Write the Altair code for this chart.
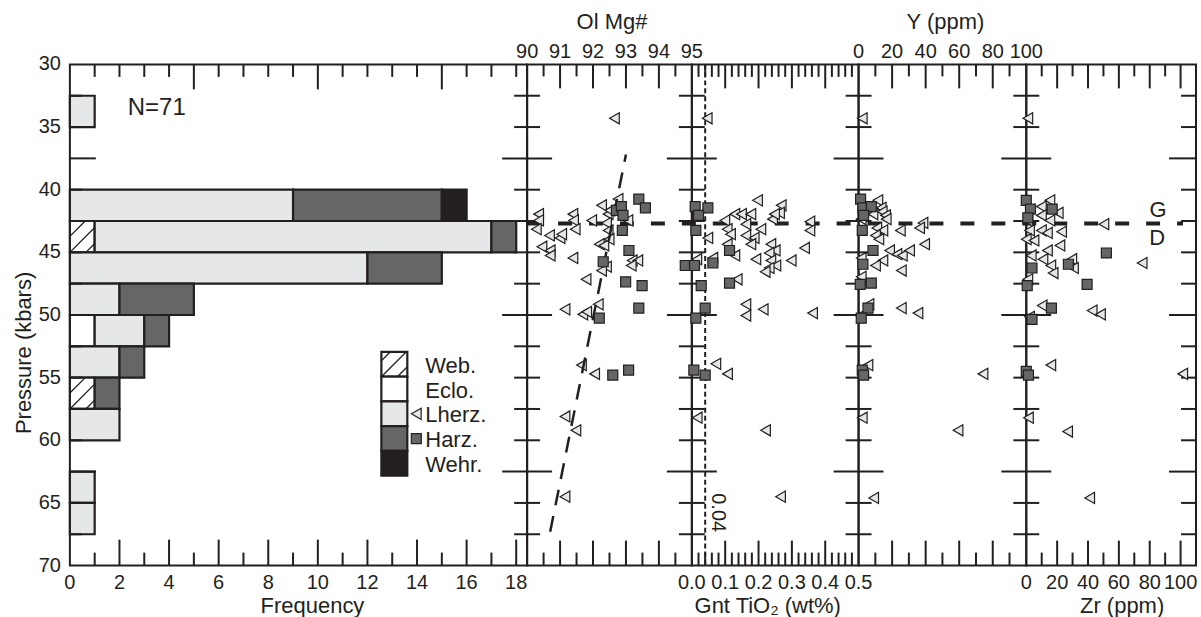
import altair as alt
import pandas as pd

INK = "#231f20"
LIGHT = "#e6e7e8"
DARK = "#666666"
NARROW = "Liberation Sans Narrow, Liberation Sans, Arial, sans-serif"
REG = "Liberation Sans, Arial, sans-serif"

# ---------------- histogram data (2.5 kbar bins, top edge) ----------------
BIN = 2.5
bin_top = [32.5, 40.0, 42.5, 45.0, 47.5, 50.0, 52.5, 55.0, 57.5, 62.5, 65.0]
n_web   = [0, 0, 1, 0, 0, 0, 0, 1, 0, 0, 0]
n_eclo  = [0, 0, 0, 0, 0, 1, 0, 0, 0, 0, 0]
n_lherz = [1, 9, 16, 12, 2, 2, 2, 0, 2, 1, 1]
n_harz  = [0, 6, 1, 3, 3, 1, 1, 1, 0, 0, 0]
n_wehr  = [0, 1, 0, 0, 0, 0, 0, 0, 0, 0, 0]
rock_types = ["Web.", "Eclo.", "Lherz.", "Harz.", "Wehr."]
rock_fills = ["#ffffff", "#ffffff", LIGHT, DARK, INK]

# ---------------- Ol Mg# ----------------
mg_lherz_x = [90.35, 90.35, 90.28, 90.68, 91.0, 91.05, 91.39, 91.41, 91.46, 90.45, 90.70, 90.70, 91.39, 91.79,
              91.96, 92.26, 92.46, 92.41, 92.46, 92.19, 92.33, 92.49, 92.41, 92.26, 92.76, 92.51, 93.06, 93.19,
              93.36, 93.16, 91.15, 91.69, 92.16, 91.81, 92.65, 91.65, 92.05, 91.15, 91.48, 91.15]
mg_lherz_p = [41.95, 42.45, 43.15, 43.65, 43.85, 43.55, 41.95, 42.45, 43.15, 44.55, 44.85, 45.25, 45.45, 47.15,
              42.45, 41.25, 41.95, 42.65, 43.25, 44.35, 44.45, 43.95, 46.15, 46.45, 40.75, 41.65, 42.45, 45.65,
              45.65, 46.05, 49.55, 49.95, 49.15, 49.75, 34.3, 54.0, 54.7, 58.1, 59.2, 64.5]
mg_harz_x = [93.39, 93.59, 92.71, 92.86, 92.91, 92.89, 93.09, 92.31, 92.99, 93.49, 93.39, 92.19, 92.6, 93.08, 94.8]
mg_harz_p = [40.75, 41.45, 41.65, 41.35, 42.05, 43.25, 44.85, 45.75, 47.35, 47.65, 49.45, 50.25, 54.8, 54.4, 46.05]
mg_trend_x = [93.0, 90.7]
mg_trend_p = [37.2, 67.3]

# ---------------- Garnet TiO2 ----------------
ti_lherz_x = [0.197, 0.268, 0.263, 0.129, 0.149, 0.177, 0.099, 0.162, 0.242, 0.248, 0.354, 0.354, 0.207, 0.106,
              0.116, 0.162, 0.048, 0.187, 0.106, 0.177, 0.237, 0.338, 0.25, 0.232, 0.129, 0.063, 0.015, 0.192,
              0.237, 0.298, 0.252, 0.232, 0.22, 0.136, 0.162, 0.162, 0.214, 0.362, 0.046, 0.072, 0.107, 0.016,
              0.221, 0.266]
ti_lherz_p = [40.85, 41.25, 41.85, 41.95, 41.95, 41.95, 42.45, 42.75, 42.35, 41.95, 42.55, 43.25, 43.15, 43.15,
              43.55, 43.65, 43.85, 43.85, 44.35, 44.35, 44.35, 44.65, 44.85, 45.05, 45.25, 45.45, 45.55, 45.55,
              45.65, 45.65, 46.05, 46.25, 46.55, 47.15, 49.15, 50.05, 49.55, 49.85, 34.3, 53.9, 54.7, 58.2,
              59.2, 64.5]
ti_harz_x = [0.01, 0.048, 0.02, 0.012, 0.113, 0.063, 0.008, 0.113, 0.028, 0.04, 0.012, 0.006, 0.04]
ti_harz_p = [41.35, 41.45, 42.05, 43.25, 44.85, 45.85, 46.05, 47.45, 47.65, 49.45, 50.25, 54.4, 54.8]
ti_ref_line = [0.04]

# ---------------- Y (ppm) ----------------
y_lherz_x = [2.2, 11.5, 13.5, 14.1, 16.1, 8.6, 16.5, 1.6, 38.4, 36.4, 24.9, 10.9, 14.5, 10.1, 12.1, 39.4, 18.5,
             22.9, 26.1, 30.4, 1.6, 14.5, 10.1, 25.5, 1.6, 6.2, 25.5, 35.4, 1.0, 5.6, 74.2, 2.2, 59.3, 9.0]
y_lherz_p = [34.3, 40.85, 41.45, 41.75, 42.05, 41.95, 42.35, 42.35, 42.65, 43.05, 43.25, 43.05, 43.25, 43.65,
             43.95, 44.35, 44.85, 45.15, 45.25, 44.85, 45.45, 45.65, 46.05, 46.45, 46.95, 49.15, 49.45, 49.85,
             50.05, 54.0, 54.7, 58.2, 59.2, 64.6]
y_harz_x = [1.2, 2.6, 7.6, 3.0, 2.2, 8.6, 2.6, 7.6, 1.0, 5.6, 1.6, 2.2, 3.0]
y_harz_p = [40.75, 41.45, 41.35, 42.05, 43.25, 44.85, 45.95, 47.45, 47.55, 49.45, 50.25, 54.4, 54.8]

# ---------------- Zr (ppm) ----------------
zr_lherz_x = [1.0, 15.3, 20.7, 9.8, 1.0, 9.8, 15.3, 50.3, 22.9, 2.1, 9.8, 13.7, 0.0, 5.0, 21.8, 13.7, 3.2, 10.8,
              29.5, 75.1, 15.9, 30.6, 17.4, 1.0, 10.3, 42.7, 48.1, 2.1, 15.9, 101.4, 1.4, 26.8, 41.1]
zr_lherz_p = [34.3, 40.85, 41.85, 41.35, 42.45, 42.05, 42.45, 42.75, 43.35, 43.25, 43.25, 43.45, 43.95, 44.05,
              44.45, 44.85, 45.25, 45.55, 45.55, 45.85, 46.05, 46.25, 46.65, 47.15, 49.25, 49.65, 49.95, 50.15,
              54.0, 54.7, 58.2, 59.3, 64.6]
zr_harz_x = [0.0, 2.7, 16.8, 1.0, 27.3, 51.9, 3.7, 39.4, 0.6, 16.3, 3.7, 0.0, 1.4]
zr_harz_p = [40.85, 41.55, 41.55, 42.25, 45.95, 45.05, 46.25, 47.55, 47.65, 49.45, 50.35, 54.5, 54.8]

gd_boundary_p = [42.7]

# ---------------- axis tick values / labels ----------------
p_label_vals = [30, 35, 40, 45, 50, 55, 60, 65, 70]
p_tick_minor = [32.5, 35, 40, 42.5, 45, 47.5, 52.5, 55, 57.5, 60, 65, 67.5]
p_tick_major = [37.5, 50, 62.5]

hist_label_vals = [0, 2, 4, 6, 8, 10, 12, 14, 16, 18]
mg_label_vals = [90, 91, 92, 93, 94, 95]
ti_label_vals = [0.0, 0.1, 0.2, 0.3, 0.4, 0.5]
ti_label_text = ["0.0", "0.1", "0.2", "0.3", "0.4", "0.5"]
y_label_vals = [0, 20, 40, 60, 80, 100]
zr_label_vals = [0, 20, 40, 60, 80, 100]

# ---------------- layout ----------------
H = 502
W_HIST, W_MG, W_TI, W_Y, W_ZR = 458, 165, 167, 168, 170
PAD_L, PAD_T, PAD_R, PAD_B = 69, 63, 4, 52
P_DOMAIN = [30, 70]
HIST_DOMAIN = [0, 18.44]
MG_DOMAIN = [90, 95]
TI_DOMAIN = [0, 0.5]
Y_DOMAIN = [0, 100]
ZR_DOMAIN = [0, 110]
PX_PER_FREQ = W_HIST / (HIST_DOMAIN[1] - HIST_DOMAIN[0])
PX_PER_KBAR = H / (P_DOMAIN[1] - P_DOMAIN[0])
LBL = 20          # tick label font size
TOP_LBL_Y = -6    # baseline of top tick labels
BOT_LBL_Y = H + 23
TITLE_SIZE = 22
BOT_TITLE_Y = H + 48
TOP_TITLE_Y = -35


def pscale():
    return alt.Scale(domain=P_DOMAIN, reverse=True, nice=False, zero=False)


def xs(d):
    return alt.Scale(domain=d, nice=False, zero=False)


def f_of_px(px):
    return HIST_DOMAIN[0] + px / PX_PER_FREQ


def p_of_px(py):
    return P_DOMAIN[0] + py / PX_PER_KBAR


def ytick_layer(vals, x0, x1):
    return alt.Chart(pd.DataFrame({"p": vals})).mark_rule(color=INK, strokeWidth=2).encode(
        y=alt.Y("p:Q", scale=pscale(), axis=None), x=alt.value(x0), x2=alt.value(x1))


def ytick_set(x_short, x_long):
    return [ytick_layer(p_tick_minor, *x_short), ytick_layer(p_tick_major, *x_long)]


def xtick_layer(vals, dom, length, top=True):
    y0, y1 = (0, length) if top else (H, H - length)
    return alt.Chart(pd.DataFrame({"v": vals})).mark_rule(color=INK, strokeWidth=2).encode(
        x=alt.X("v:Q", scale=xs(dom), axis=None), y=alt.value(y0), y2=alt.value(y1))


def xlabel_layer(vals, texts, dom, y):
    return alt.Chart(pd.DataFrame({"v": vals, "t": texts})).mark_text(
        font=NARROW, fontSize=LBL, color=INK, baseline="alphabetic", align="center").encode(
        x=alt.X("v:Q", scale=xs(dom), axis=None), y=alt.value(y), text="t:N")


def text_layer(txt, x, y, size=22, font=REG, angle=0, align="center", baseline="alphabetic"):
    return alt.Chart(pd.DataFrame({"t": [txt]})).mark_text(
        font=font, fontSize=size, color=INK, angle=angle, align=align, baseline=baseline).encode(
        x=alt.value(x), y=alt.value(y), text="t:N")


def anchor_layer(x, y):
    # invisible point-sized rule fixing the outer extent of the figure
    return alt.Chart(pd.DataFrame({"a": [0]})).mark_rule(strokeOpacity=0, strokeWidth=0.01).encode(
        x=alt.value(x), x2=alt.value(x), y=alt.value(y), y2=alt.value(y))


def points(xv, pv, dom, shape):
    df = pd.DataFrame({"v": xv, "p": pv})
    if shape == "square":
        mk = alt.Chart(df).mark_point(shape="square", filled=True, fill=DARK, stroke=INK,
                                      strokeWidth=1.2, size=100, opacity=1)
    else:
        mk = alt.Chart(df).mark_point(shape="triangle-left", filled=True, fill=LIGHT, stroke=INK,
                                      strokeWidth=1.2, size=125, opacity=1)
    return mk.encode(x=alt.X("v:Q", scale=xs(dom), axis=None),
                     y=alt.Y("p:Q", scale=pscale(), axis=None))


def hatch_segments(x0, ybot, w, h, ks=(-16, 0, 16)):
    segs = []
    for k in ks:
        a = max(0.0, -k)
        b = min(w, h - k)
        if b > a:
            segs.append((x0 + a, ybot - (a + k), x0 + b, ybot - (b + k)))
    return segs


# ---------------- histogram panel ----------------
seg_rows = []
counts = [n_web, n_eclo, n_lherz, n_harz, n_wehr]
for i, top in enumerate(bin_top):
    start = 0
    for t, c in zip(rock_types, counts):
        n = c[i]
        if n:
            seg_rows.append(dict(type=t, x0=start, x1=start + n, p0=top, p1=top + BIN))
            start += n
seg_df = pd.DataFrame(seg_rows)

fill_enc = alt.Fill("type:N", scale=alt.Scale(domain=rock_types, range=rock_fills), legend=None)

bars = alt.Chart(seg_df).mark_bar(stroke=INK, strokeWidth=2.2).encode(
    x=alt.X("x0:Q", scale=xs(HIST_DOMAIN), axis=None), x2="x1:Q",
    y=alt.Y("p0:Q", scale=pscale(), axis=None), y2="p1:Q", fill=fill_enc)

# legend geometry (pixels inside hist panel)
LEG_X, LEG_W, LEG_TOP, LEG_ROW = 312, 26, 288, 24.8
LEG_TEXT_X, LEG_MARK_X = 356, 347
leg_rows = []
for i, t in enumerate(rock_types):
    leg_rows.append(dict(type=t, x0=f_of_px(LEG_X), x1=f_of_px(LEG_X + LEG_W),
                         p0=p_of_px(LEG_TOP + i * LEG_ROW), p1=p_of_px(LEG_TOP + (i + 1) * LEG_ROW),
                         tx=f_of_px(LEG_TEXT_X), tp=p_of_px(LEG_TOP + (i + 0.5) * LEG_ROW + 1.5)))
leg_df = pd.DataFrame(leg_rows)
leg_boxes = alt.Chart(leg_df).mark_rect(stroke=INK, strokeWidth=2.2).encode(
    x=alt.X("x0:Q", scale=xs(HIST_DOMAIN), axis=None), x2="x1:Q",
    y=alt.Y("p0:Q", scale=pscale(), axis=None), y2="p1:Q", fill=fill_enc)
leg_text = alt.Chart(leg_df).mark_text(font=REG, fontSize=22, color=INK, align="left",
                                       baseline="middle").encode(
    x=alt.X("tx:Q", scale=xs(HIST_DOMAIN), axis=None),
    y=alt.Y("tp:Q", scale=pscale(), axis=None), text="type:N")

# hatching of Web. cells (bars and legend box)
hatch = []
for r in seg_rows:
    if r["type"] == "Web.":
        hatch += hatch_segments(r["x0"] * PX_PER_FREQ, (r["p1"] - P_DOMAIN[0]) * PX_PER_KBAR,
                                (r["x1"] - r["x0"]) * PX_PER_FREQ, BIN * PX_PER_KBAR)
hatch += hatch_segments(LEG_X, LEG_TOP + LEG_ROW, LEG_W, LEG_ROW)
hatch_df = pd.DataFrame([dict(a=f_of_px(s[0]), b=p_of_px(s[1]), c=f_of_px(s[2]), d=p_of_px(s[3]))
                         for s in hatch])
hatch_lines = alt.Chart(hatch_df).mark_rule(color=INK, strokeWidth=1.3).encode(
    x=alt.X("a:Q", scale=xs(HIST_DOMAIN), axis=None), x2="c:Q",
    y=alt.Y("b:Q", scale=pscale(), axis=None), y2="d:Q")

leg_marks = [
    points([f_of_px(LEG_MARK_X)], [p_of_px(LEG_TOP + 2.5 * LEG_ROW)], HIST_DOMAIN, "triangle"),
    points([f_of_px(LEG_MARK_X)], [p_of_px(LEG_TOP + 3.5 * LEG_ROW)], HIST_DOMAIN, "square"),
]

p_labels = alt.Chart(pd.DataFrame({"p": p_label_vals})).mark_text(
    font=NARROW, fontSize=LBL, color=INK, align="right", baseline="middle").encode(
    y=alt.Y("p:Q", scale=pscale(), axis=None), x=alt.value(-9), text="p:N")

hist_minor_bottom = [v for v in range(1, 19) if v % 2]
hist_major_bottom = [v for v in range(1, 19) if v % 2 == 0]
hist_major_top = [5, 10, 15]
hist_minor_top = [v for v in range(1, 19) if v not in hist_major_top]

hist = alt.layer(
    anchor_layer(-PAD_L, -PAD_T),
    bars,
    *ytick_set((0, 12), (0, 26)),
    xtick_layer(hist_minor_top, HIST_DOMAIN, 12.5), xtick_layer(hist_major_top, HIST_DOMAIN, 25),
    xtick_layer(hist_minor_bottom, HIST_DOMAIN, 13, top=False),
    xtick_layer(hist_major_bottom, HIST_DOMAIN, 26, top=False),
    leg_boxes, hatch_lines, leg_text, *leg_marks, p_labels,
    xlabel_layer(hist_label_vals, [str(v) for v in hist_label_vals], HIST_DOMAIN, BOT_LBL_Y),
    text_layer("N=71", 58, 51, size=24, font=REG, align="left"),
    text_layer("Frequency", 243, BOT_TITLE_Y, size=TITLE_SIZE),
    text_layer("Pressure (kbars)", -46, 289, size=22, angle=270, baseline="middle"),
).properties(width=W_HIST, height=H)

# ---------------- Ol Mg# panel ----------------
mg_major = [91, 92, 93, 94]
mg_minor = [90.5, 91.5, 92.5, 93.5, 94.5]
gd_line = alt.Chart(pd.DataFrame({"p": gd_boundary_p})).mark_rule(
    color=INK, strokeWidth=4, strokeDash=[14, 17]).encode(
    y=alt.Y("p:Q", scale=pscale(), axis=None), x=alt.value(0), x2=alt.value(657))
trend = alt.Chart(pd.DataFrame({"v": mg_trend_x, "p": mg_trend_p})).mark_line(
    color=INK, strokeWidth=2.5, strokeDash=[16, 11]).encode(
    x=alt.X("v:Q", scale=xs(MG_DOMAIN), axis=None), y=alt.Y("p:Q", scale=pscale(), axis=None))

mg = alt.layer(
    gd_line,
    *ytick_set((-13, 13), (-25, 25)),
    xtick_layer(mg_minor, MG_DOMAIN, 12), xtick_layer(mg_major, MG_DOMAIN, 24),
    xtick_layer(mg_minor, MG_DOMAIN, 13, top=False), xtick_layer(mg_major, MG_DOMAIN, 25, top=False),
    points(mg_lherz_x, mg_lherz_p, MG_DOMAIN, "triangle"),
    trend,
    points(mg_harz_x, mg_harz_p, MG_DOMAIN, "square"),
    xlabel_layer(mg_label_vals, [str(v) for v in mg_label_vals], MG_DOMAIN, TOP_LBL_Y),
    text_layer("Ol Mg#", 85, TOP_TITLE_Y, size=TITLE_SIZE),
).properties(width=W_MG, height=H)

# ---------------- Gnt TiO2 panel ----------------
ti_ticks = [round(0.02 * i, 2) for i in range(1, 25)]
ti_major = [0.1, 0.2, 0.3, 0.4]
ti_minor = [v for v in ti_ticks if v not in ti_major]
ti_line = alt.Chart(pd.DataFrame({"v": ti_ref_line})).mark_rule(
    color=INK, strokeWidth=2, strokeDash=[5, 3]).encode(
    x=alt.X("v:Q", scale=xs(TI_DOMAIN), axis=None), y=alt.value(0), y2=alt.value(H))

ti = alt.layer(
    *ytick_set((-13, 13), (-25, 25)),
    xtick_layer(ti_minor, TI_DOMAIN, 12.5), xtick_layer(ti_major, TI_DOMAIN, 24),
    xtick_layer(ti_minor, TI_DOMAIN, 13, top=False), xtick_layer(ti_major, TI_DOMAIN, 25, top=False),
    ti_line,
    points(ti_lherz_x, ti_lherz_p, TI_DOMAIN, "triangle"),
    points(ti_harz_x, ti_harz_p, TI_DOMAIN, "square"),
    xlabel_layer(ti_label_vals, ti_label_text, TI_DOMAIN, BOT_LBL_Y),
    text_layer("0.04", 26, 449, size=20, font=NARROW, angle=90, baseline="middle"),
    text_layer("Gnt TiO₂ (wt%)", 76, BOT_TITLE_Y, size=TITLE_SIZE),
).properties(width=W_TI, height=H)

# ---------------- Y panel ----------------
y_major = [20, 40, 60, 80]
y_minor = [10, 30, 50, 70, 90]
yp = alt.layer(
    *ytick_set((-13, 13), (-25, 25)),
    xtick_layer(y_minor, Y_DOMAIN, 12), xtick_layer(y_major, Y_DOMAIN, 24),
    xtick_layer(y_minor, Y_DOMAIN, 13, top=False), xtick_layer(y_major, Y_DOMAIN, 25, top=False),
    points(y_lherz_x, y_lherz_p, Y_DOMAIN, "triangle"),
    points(y_harz_x, y_harz_p, Y_DOMAIN, "square"),
    xlabel_layer(y_label_vals, [str(v) for v in y_label_vals], Y_DOMAIN, TOP_LBL_Y),
    text_layer("Y (ppm)", 87, TOP_TITLE_Y, size=TITLE_SIZE),
).properties(width=W_Y, height=H)

# ---------------- Zr panel ----------------
zr_major = [20, 40, 60, 80, 100]
zr_minor = [10, 30, 50, 70, 90]
zr = alt.layer(
    anchor_layer(W_ZR + PAD_R, H + PAD_B),
    *ytick_set((-13, 13), (-25, 25)),
    *ytick_set((W_ZR - 15, W_ZR), (W_ZR - 27, W_ZR)),
    xtick_layer(zr_minor, ZR_DOMAIN, 12), xtick_layer(zr_major, ZR_DOMAIN, 24),
    xtick_layer(zr_minor, ZR_DOMAIN, 13, top=False), xtick_layer(zr_major, ZR_DOMAIN, 25, top=False),
    points(zr_lherz_x, zr_lherz_p, ZR_DOMAIN, "triangle"),
    points(zr_harz_x, zr_harz_p, ZR_DOMAIN, "square"),
    xlabel_layer(zr_label_vals, [str(v) for v in zr_label_vals], ZR_DOMAIN, BOT_LBL_Y),
    text_layer("G", 132, 153, size=22, baseline="alphabetic"),
    text_layer("D", 131, 181, size=22, baseline="alphabetic"),
    text_layer("Zr (ppm)", 96, BOT_TITLE_Y, size=TITLE_SIZE),
).properties(width=W_ZR, height=H)

chart = alt.hconcat(hist, mg, ti, yp, zr, spacing=0, bounds="flush").properties(
    padding=0,
    background="white",
).configure_view(stroke=INK, strokeWidth=2)

chart.save("out.html", embed_options={"renderer": "svg", "actions": False})
